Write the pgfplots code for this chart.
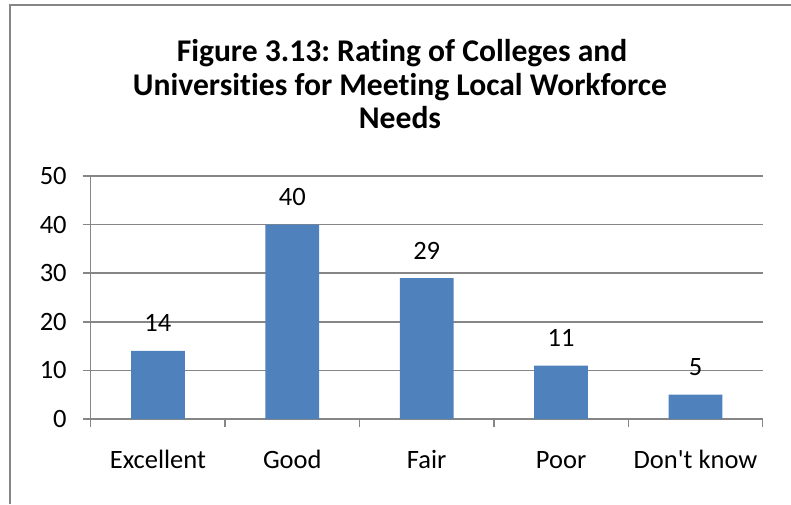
\documentclass[border=0pt]{standalone}
\usepackage{fontspec}
\setmainfont{Carlito}[Ligatures={NoCommon}]
\usepackage{pgfplots}
\pgfplotsset{compat=1.18}
\definecolor{barblue}{HTML}{4F81BD}
\definecolor{gridgray}{HTML}{868686}
\newcommand\axisfont{\fontsize{13.25pt}{15pt}\selectfont}
\newcommand\titlefont{\fontsize{15.8pt}{17pt}\selectfont\bfseries}
\frenchspacing

\begin{document}
\begin{tikzpicture}
\useasboundingbox (0,0) rectangle (395.5pt,252pt);
% chart frame (only top and left edges are in the picture)
\draw[gridgray, line width=1pt] (5pt,0) -- (5pt,249.25pt) -- (395.5pt,249.25pt);
% title
\node[anchor=base, font=\titlefont] at (201pt,221pt) {Figure 3.13: Rating of Colleges and};
\node[anchor=base, font=\titlefont] at (200pt,204.25pt) {Universities for Meeting Local Workforce};
\node[anchor=base, font=\titlefont] at (200pt,187.5pt) {Needs};
\begin{axis}[
  at={(45.35pt,42.5pt)}, anchor=south west,
  scale only axis, width=336pt, height=121.5pt,
  xmin=0.5, xmax=5.5, ymin=0, ymax=50,
  ytick={0,10,...,50},
  xtick={0.5,1.5,...,5.5}, xticklabels={,,,,,},
  extra x ticks={1,2,3,4,5},
  extra x tick labels={Excellent,Good,Fair,Poor,Don\textquotesingle t know},
  extra x tick style={major tick length=0pt, grid=none,
    tick label style={anchor=base, yshift=-24.5pt}},
  tick align=outside, major tick length=4pt,
  axis x line*=bottom, axis y line*=left,
  axis line style={gridgray, line width=0.75pt},
  tick style={gridgray, line width=0.75pt},
  ymajorgrids, grid style={gridgray, line width=0.75pt},
  tick label style={font=\axisfont, text=black},
  yticklabel style={xshift=-4.5pt},
  /pgf/number format/assume math mode=true,
  ybar, bar width=0.4,
  nodes near coords,
  every node near coord/.append style={font=\axisfont, anchor=base, yshift=9.5pt},
  clip=false,
]
\addplot[fill=barblue, draw=none] coordinates {(1,14) (2,40) (3,29) (4,11) (5,5)};
\end{axis}
\end{tikzpicture}
\end{document}
